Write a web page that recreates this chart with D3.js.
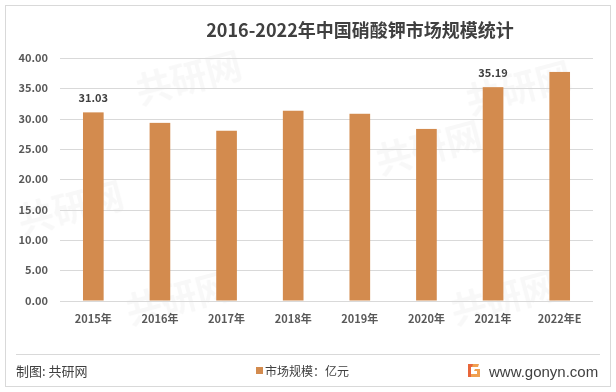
<!DOCTYPE html>
<html>
<head>
<meta charset="utf-8">
<script src="https://cdn.jsdelivr.net/npm/d3@7"></script>
<style>
html,body{margin:0;padding:0;background:#fff;}
svg{display:block;}
text{font-family:"Microsoft YaHei","Noto Sans CJK SC","Noto Sans",sans-serif;}
</style>
</head>
<body>
<svg id="chart" width="616" height="392"></svg>
<script>
const title = "2016-2022年中国硝酸钾市场规模统计";
const categories = ["2015年","2016年","2017年","2018年","2019年","2020年","2021年","2022年E"];
const values = [31.03, 29.3, 28.0, 31.3, 30.8, 28.3, 35.19, 37.7];
const labelled = ["2015年","2021年"];
const yTicks = [0,5,10,15,20,25,30,35,40];
const seriesName = "市场规模：亿元";
const sourceText = "制图: 共研网";
const siteText = "www.gonyn.com";

const svg = d3.select("#chart");
const plot = {left:60, right:593, top:58, bottom:300.5};

svg.append("rect").attr("x",5.5).attr("y",5.5).attr("width",605).attr("height",381)
  .attr("fill","#fff").attr("stroke","#d9d9d9").attr("stroke-width",1);

// faint watermarks
const wm = svg.append("g").attr("fill","#000").attr("opacity",0.03).style("font-weight","bold");
[[140,105],[380,175],[130,325],[455,325],[470,115],[22,235]].forEach(([x,y])=>{
  wm.append("text").attr("transform",`translate(${x},${y}) rotate(-15)`)
    .attr("font-size",36).text("共研网");
});

const x = d3.scaleBand().domain(categories).range([plot.left, plot.right])
  .paddingInner(0.69).paddingOuter(0.345);
const y = d3.scaleLinear().domain([0,40]).range([plot.bottom, plot.top]);

// gridlines + y labels
const yAxis = d3.axisLeft(y).tickValues(yTicks).tickFormat(d3.format(".2f"))
  .tickSize(-(plot.right-plot.left)).tickPadding(12);
const gy = svg.append("g").attr("transform",`translate(${plot.left},0)`).call(yAxis);
gy.select(".domain").remove();
gy.selectAll(".tick line").attr("stroke","#d9d9d9").attr("stroke-width",1)
  .attr("shape-rendering","crispEdges");
gy.selectAll(".tick text").attr("fill","#595959").attr("font-size",11)
  .style("font-weight","bold").style("font-family",'"Microsoft YaHei","Noto Sans CJK SC",sans-serif');

// bars
svg.append("g").selectAll("rect").data(values).join("rect")
  .attr("x",(d,i)=>x(categories[i]))
  .attr("y",d=>y(d))
  .attr("width",x.bandwidth())
  .attr("height",d=>y(0)-y(d))
  .attr("fill","#D38B4E");

// data labels
svg.append("g").selectAll("text").data(values.map((v,i)=>({v,c:categories[i]})).filter(d=>labelled.includes(d.c)))
  .join("text")
  .attr("x",d=>x(d.c)+x.bandwidth()/2)
  .attr("y",d=>y(d.v)-10)
  .attr("text-anchor","middle").attr("font-size",11).attr("fill","#404040")
  .style("font-weight","bold")
  .text(d=>d3.format(".2f")(d.v));

// x labels
const xAxis = d3.axisBottom(x).tickSize(0).tickPadding(15);
const gx = svg.append("g").attr("transform",`translate(0,${plot.bottom})`).call(xAxis);
gx.select(".domain").remove();
gx.selectAll(".tick text").attr("fill","#595959").attr("font-size",11)
  .style("font-weight","bold").style("font-family",'"Microsoft YaHei","Noto Sans CJK SC",sans-serif');

// title
svg.append("text").attr("x",360).attr("y",37).attr("text-anchor","middle")
  .attr("font-size",18).attr("fill","#404040").style("font-weight","bold").text(title);

// footer
svg.append("line").attr("x1",16).attr("x2",600).attr("y1",354.5).attr("y2",354.5)
  .attr("stroke","#d9d9d9").attr("stroke-width",1);
svg.append("text").attr("x",16).attr("y",376).attr("font-size",13).attr("fill","#404040").text(sourceText);
svg.append("rect").attr("x",256).attr("y",367).attr("width",7).attr("height",7).attr("fill","#D38B4E");
svg.append("text").attr("x",265).attr("y",375.5).attr("font-size",12).attr("fill","#404040").text(seriesName);

// logo icon
const logo = svg.append("g").attr("transform","translate(467,364)");
logo.append("path").attr("d","M2,0 H12 L11,3 H4 V10 H10 V7 H7 L8,5 H13 V13 H1 Z").attr("fill","#F0A050");
logo.append("path").attr("d","M1,0 H6 L5,3 H4 V13 H1 Z").attr("fill","#E8663A");
svg.append("text").attr("x",489).attr("y",376.5).attr("font-size",15).attr("fill","#404040")
  .style("font-family",'"Liberation Sans",Arial,sans-serif').text(siteText);
</script>
</body>
</html>
